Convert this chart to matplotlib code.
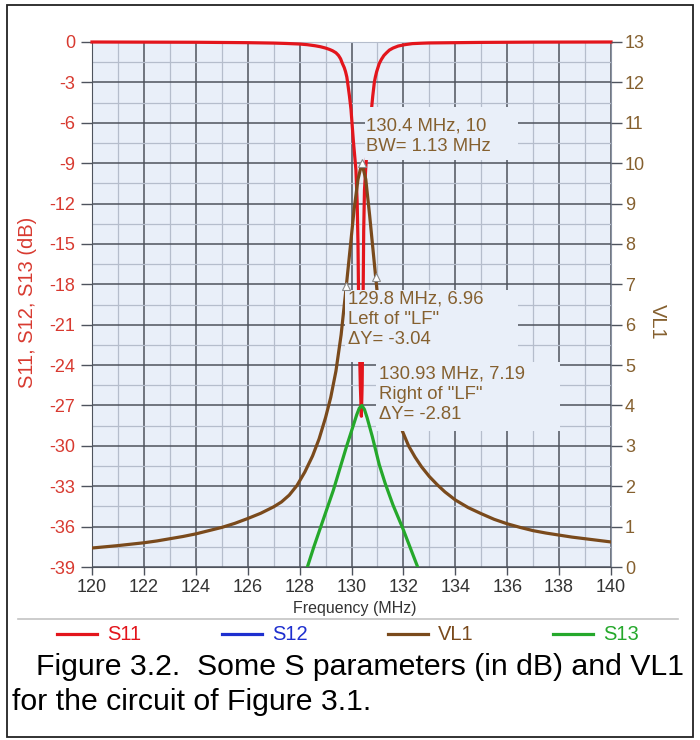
import matplotlib
matplotlib.use('Agg')
import matplotlib.pyplot as plt
from matplotlib.lines import Line2D
from matplotlib.patches import Rectangle
from matplotlib.ticker import MultipleLocator

plt.rcParams['font.family'] = ['Liberation Sans', 'DejaVu Sans']
plt.rcParams['axes.unicode_minus'] = False

# ---------------- data ----------------
s11_freq = [120, 124, 126, 127, 127.5, 128, 128.3, 128.6, 128.8, 129.0, 129.15,
            129.27, 129.4, 129.5, 129.58, 129.65, 129.72, 129.77, 129.82,
            129.85, 129.92, 129.98, 130.07, 130.17, 130.22, 130.25, 130.27, 130.3,
            130.34, 130.38, 130.41, 130.43, 130.45, 130.47, 130.5, 130.56, 130.66,
            130.77, 130.82, 130.88, 130.92, 130.97, 131.02, 131.07, 131.15, 131.25,
            131.35, 131.46, 131.6, 131.8, 132.05, 132.35, 132.7,
            133, 135, 137, 140]
s11_db = [0, -0.02, -0.05, -0.08, -0.11, -0.15, -0.2, -0.28, -0.35, -0.45, -0.55,
          -0.65, -0.8, -1.0, -1.25, -1.6, -1.9, -2.2, -2.6,
          -3.0, -4.0, -5.0, -7.3, -9.5, -12, -15, -18.5, -22,
          -25.5, -27.8, -25.5, -22, -18.5, -14, -11, -9, -7,
          -5.0, -4.0, -3.0, -2.6, -2.2, -1.9, -1.6, -1.3, -1.0,
          -0.8, -0.6, -0.45, -0.3, -0.2, -0.12, -0.09,
          -0.07, -0.03, -0.01, 0]

vl1_freq = [120, 120.5, 121, 121.5, 122, 122.5, 123, 123.5, 124, 124.5, 125, 125.5,
            126, 126.5, 127, 127.3, 127.6, 127.9, 128.2, 128.5, 128.75, 129.0,
            129.2, 129.4, 129.6, 129.8, 129.95, 130.1, 130.25, 130.4, 130.55,
            130.7, 130.93, 131.1, 131.3, 131.6, 131.97, 132.2, 132.45, 132.7,
            133.0, 133.3, 133.6, 134.0, 134.5, 135.0, 135.5, 136.0, 136.5, 137.0,
            137.5, 138.0, 138.5, 139.0, 139.5, 140]
vl1_val = [0.47, 0.5, 0.53, 0.565, 0.6, 0.645, 0.7, 0.755, 0.82, 0.9, 0.98, 1.08,
           1.2, 1.33, 1.49, 1.61, 1.78, 2.02, 2.35, 2.75, 3.17, 3.7,
           4.2, 4.85, 5.75, 6.96, 7.9, 8.85, 9.6, 10.0, 9.6,
           8.7, 7.19, 6.1, 5.2, 4.2, 3.35, 3.0, 2.72, 2.48,
           2.24, 2.04, 1.86, 1.66, 1.47, 1.32, 1.18, 1.07, 0.98, 0.9,
           0.84, 0.79, 0.74, 0.7, 0.66, 0.62]

s13_freq = [128.3, 128.55, 128.8, 129.05, 129.3, 129.55, 129.8, 130.0, 130.2, 130.3,
            130.4, 130.5, 130.6, 130.8, 131.07, 131.3, 131.6, 131.97, 132.25, 132.55]
s13_db = [-39, -37.5, -36.1, -34.7, -33.3, -31.7, -30.1, -28.9, -27.7, -27.2,
          -27.0, -27.3, -27.9, -29.3, -31.4, -32.8, -34.4, -36.1, -37.5, -39]

marker_freq = [130.4, 129.8, 130.93]
marker_val = [10, 6.96, 7.19]

x_ticks = list(range(120, 141, 2))
left_ticks = list(range(0, -40, -3))
right_ticks = list(range(0, 14))

legend_names = ['S11', 'S12', 'VL1', 'S13']

ann1 = "130.4 MHz, 10\nBW= 1.13 MHz"
ann2 = "129.8 MHz, 6.96\nLeft of \"LF\"\nΔY= -3.04"
ann3 = "130.93 MHz, 7.19\nRight of \"LF\"\nΔY= -2.81"

caption1 = "Figure 3.2.  Some S parameters (in dB) and VL1"
caption2 = "for the circuit of Figure 3.1."

# ---------------- styles ----------------
BG = '#e9eff9'
RED = '#e3151c'
RED_TXT = '#d83a30'
BROWN = '#7a4a1c'
BROWN_TXT = '#85602f'
GREEN = '#25a82b'
BLUE = '#1e2fcf'
MAJ = '#4e535d'
MIN = '#b5bdcc'

W, H = 700, 740
fig = plt.figure(figsize=(W / 100, H / 100), dpi=100)

def fx(px):
    return px / W

def fy(py):
    return 1 - py / H

ax = fig.add_axes([fx(92), fy(567), (611 - 92) / W, (567 - 42) / H])
ax.set_facecolor(BG)
ax.set_xlim(120, 140)
ax.set_ylim(-39, 0)
ax.set_xticks(x_ticks)
ax.set_yticks(left_ticks)
ax.xaxis.set_minor_locator(MultipleLocator(1))
ax.yaxis.set_minor_locator(MultipleLocator(1.5))
ax.grid(which='major', color=MAJ, lw=1.1)
ax.grid(which='minor', color=MIN, lw=0.9)
ax.set_axisbelow(True)
ax.tick_params(axis='both', which='minor', length=0)
ax.tick_params(axis='y', which='major', direction='out', length=8, width=1,
               color=MAJ, labelcolor=RED_TXT, labelsize=13, pad=4)
ax.tick_params(axis='x', which='major', direction='out', length=6, width=1,
               color=MAJ, labelcolor='#333333', labelsize=13, pad=3)
for side in ['left', 'bottom']:
    ax.spines[side].set_color(MAJ)
ax.spines['top'].set_color(MIN)
ax.spines['right'].set_color('#8b93a3')

ax.plot(s11_freq, s11_db, color=RED, lw=2.3, zorder=3, clip_on=False)
ax.plot(s13_freq, s13_db, color=GREEN, lw=2.3, zorder=3)

ax2 = ax.twinx()
ax2.set_ylim(0, 13)
ax2.set_yticks(right_ticks)
ax2.tick_params(axis='y', direction='out', length=8, width=1, color=MAJ,
                labelcolor=BROWN_TXT, labelsize=13, pad=2)
for s in ax2.spines.values():
    s.set_visible(False)
ax2.plot(vl1_freq, vl1_val, color=BROWN, lw=2.3, zorder=2)

# annotation boxes (background panels covering curves and grid)
def fr(px):
    return 120 + (px - 92) / 25.95

def vl(py):
    return (567 - py) / 40.38

for (x0, y0, x1, y1) in [(365, 107, 518, 160), (345, 290, 518, 362), (376, 362, 560, 431)]:
    ax2.add_patch(Rectangle((fr(x0), vl(y1)), fr(x1) - fr(x0), vl(y0) - vl(y1),
                            fc=BG, ec='none', zorder=4))

ax2.plot(marker_freq, marker_val, ls='none', marker='^', ms=5.5, mfc='white',
         mec='#8a8a8a', mew=0.8, zorder=6)

tkw = dict(color=BROWN_TXT, fontsize=13.3, va='top', ha='left', zorder=5,
           linespacing=1.25)
ax2.text(fr(366), vl(118), ann1, **tkw)
ax2.text(fr(348), vl(291), ann2, **tkw)
ax2.text(fr(379), vl(366), ann3, **tkw)

# axis titles
fig.text(fx(28), fy(302), "S11, S12, S13 (dB)", rotation=90, color=RED_TXT,
         fontsize=14.5, ha='center', va='center')
fig.text(fx(657), fy(322), "VL1", rotation=270, color=BROWN_TXT,
         fontsize=14.5, ha='center', va='center')
fig.text(fx(355), fy(609), "Frequency (MHz)", color='#333333', fontsize=11.5,
         ha='center', va='center')

# separator + legend
fig.add_artist(Line2D([fx(18), fx(678)], [fy(619), fy(619)], color='#c4c4c4', lw=1.2))
leg_colors = [RED, BLUE, BROWN, GREEN]
leg_x = [57, 222, 388, 553]
for name, c, x0 in zip(legend_names, leg_colors, leg_x):
    fig.add_artist(Line2D([fx(x0), fx(x0 + 40)], [fy(634), fy(634)], color=c, lw=2.3))
    fig.text(fx(x0 + 50), fy(634), name, color=c, fontsize=14.5, ha='left', va='center')

# caption
fig.text(fx(36), fy(667), caption1, color='black', fontsize=21.8, ha='left', va='center')
fig.text(fx(12), fy(702), caption2, color='black', fontsize=21.8, ha='left', va='center')

# outer frame
fig.add_artist(Rectangle((fx(7), fy(737)), fx(693) - fx(7), fy(5) - fy(737),
                         transform=fig.transFigure, fill=False, ec='#222222', lw=1.3))

fig.savefig('out.png', dpi=100)
